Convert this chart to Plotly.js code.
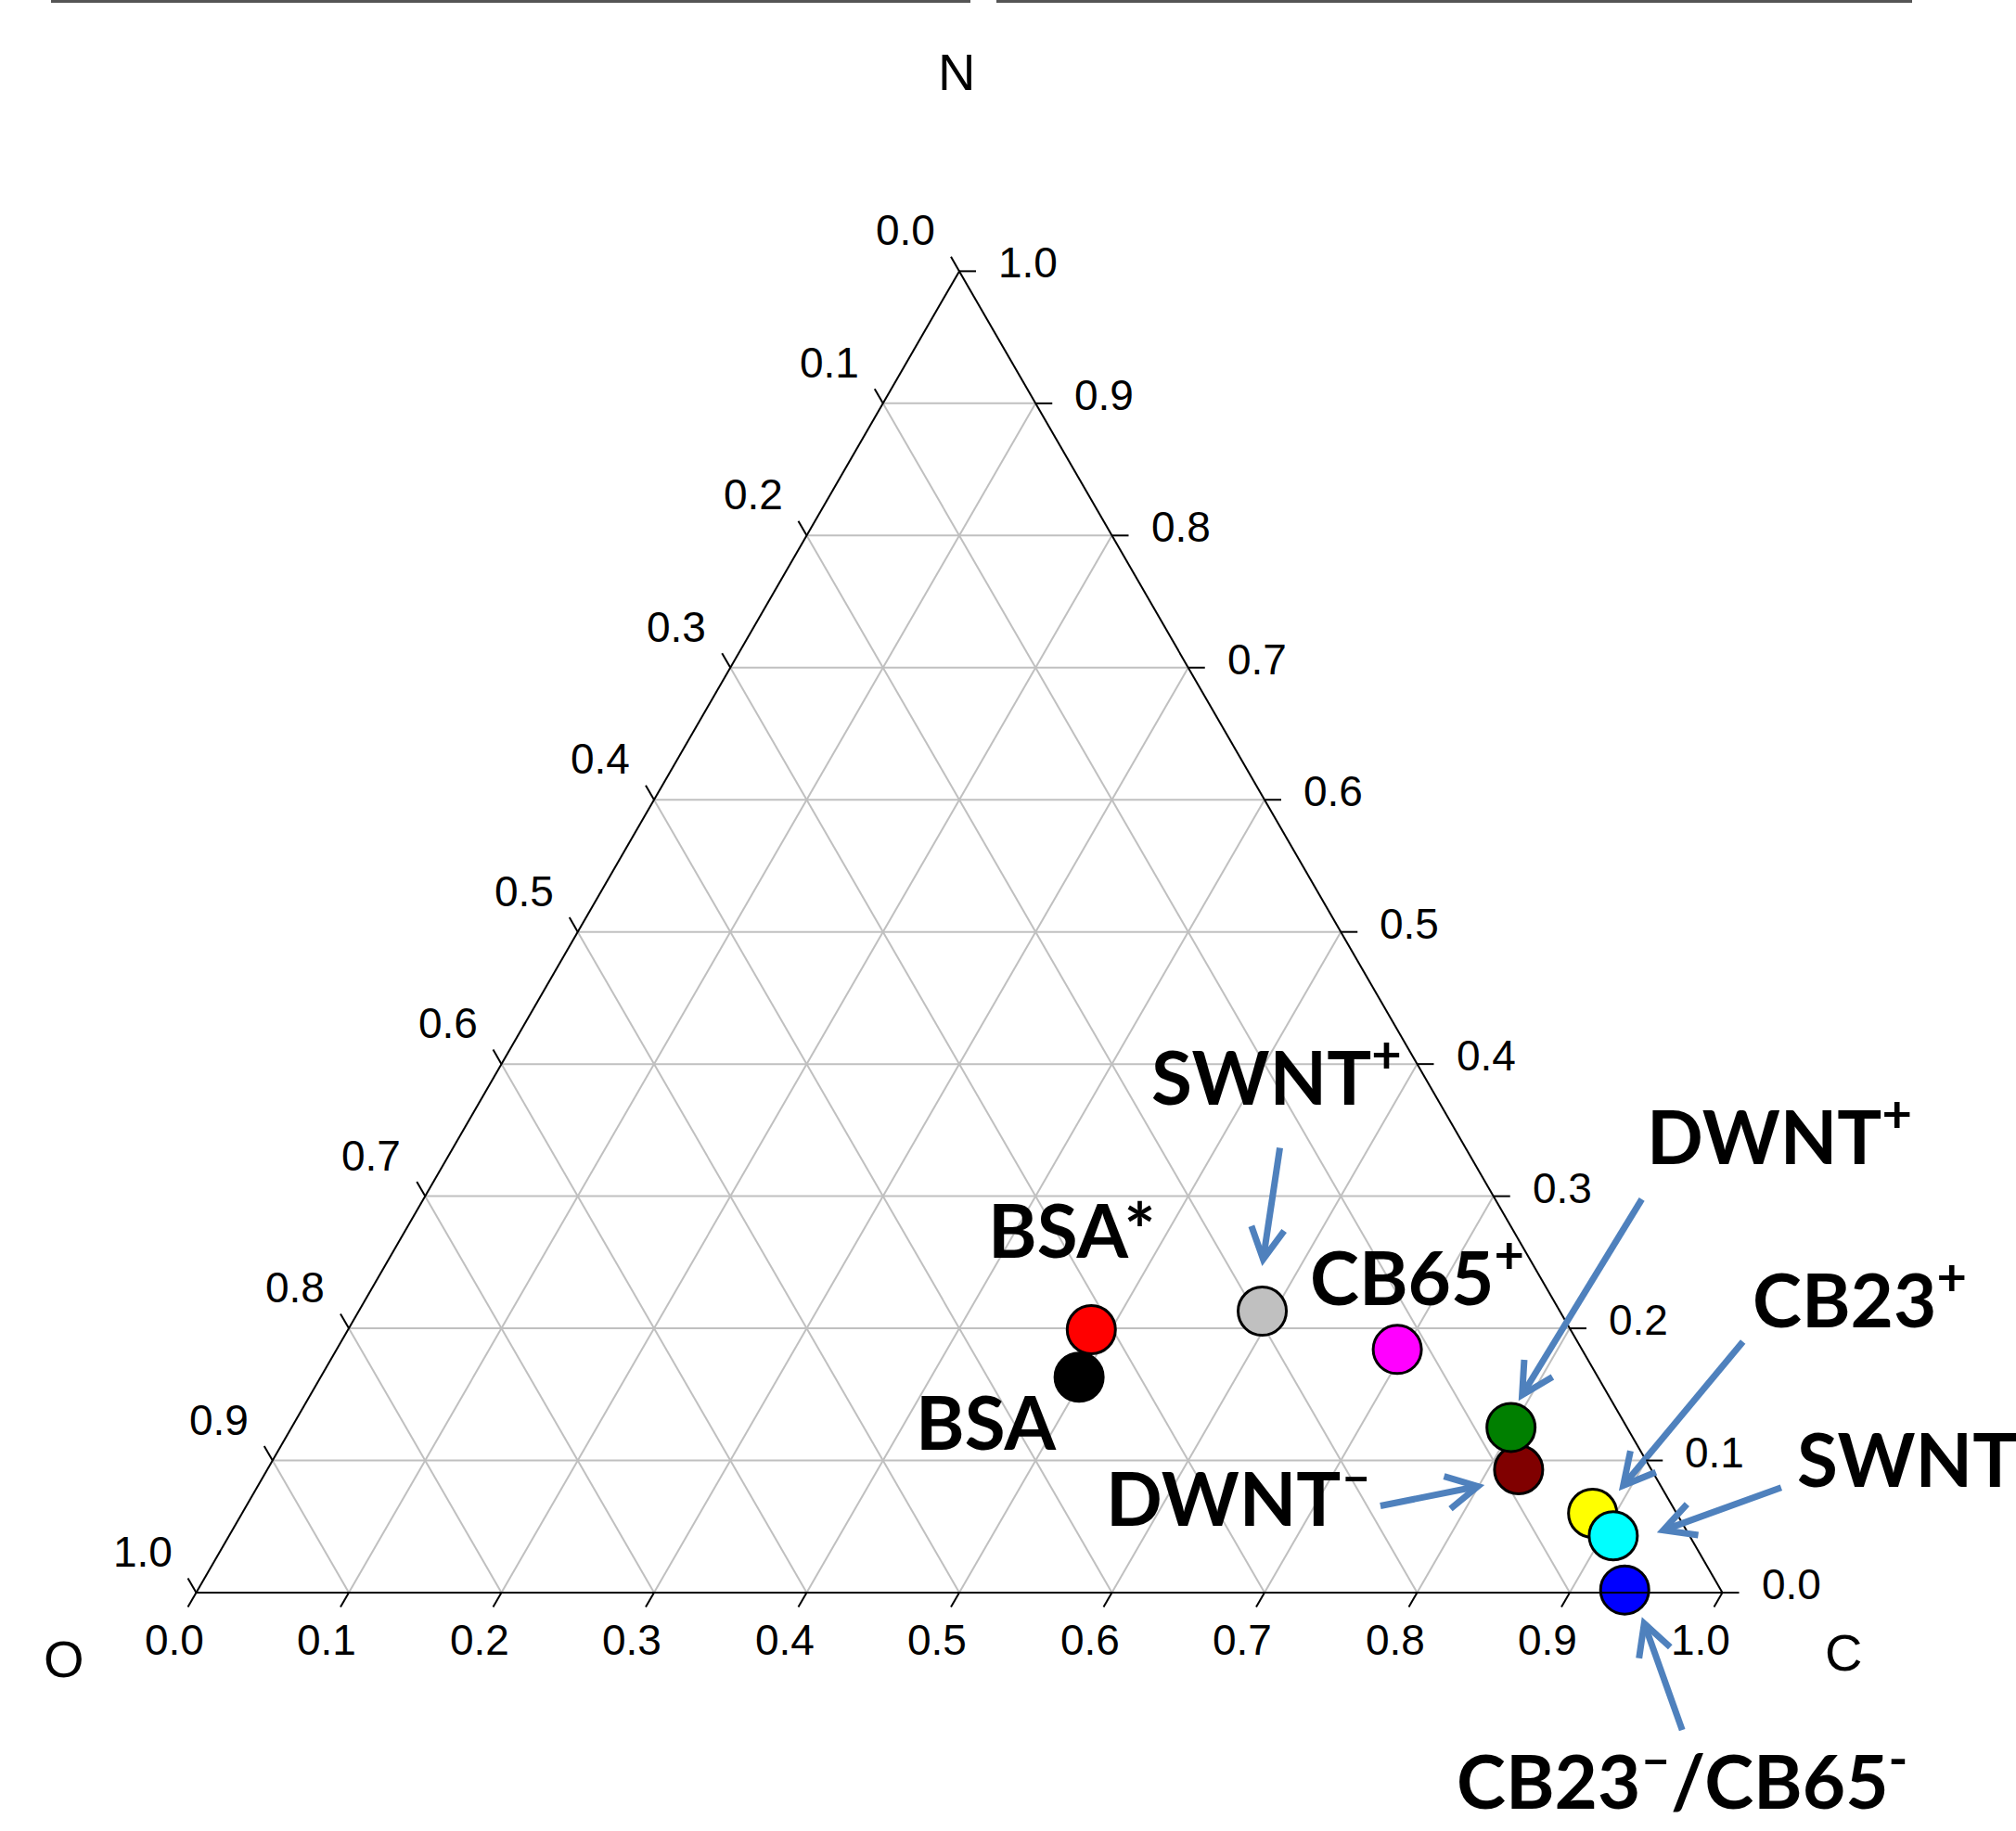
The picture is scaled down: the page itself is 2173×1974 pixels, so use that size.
<!DOCTYPE html>
<html>
<head>
<meta charset="utf-8">
<script src="https://cdn.plot.ly/plotly-3.0.1.min.js"></script>
<style>html,body{margin:0;padding:0;background:#fff;overflow:hidden}</style>
</head>
<body>
<div id="chart" style="width:2173px;height:1974px"></div>
<script>
// ---------------- data ----------------
const species = ['BSA', 'BSA*', 'SWNT+', 'CB65+', 'DWNT-', 'DWNT+', 'CB23+', 'SWNT-', 'CB23-/CB65-'];
const labelText = ['BSA', 'BSA*', 'SWNT<sup>+</sup>', 'CB65<sup>+</sup>', 'DWNT<sup>–</sup>', 'DWNT<sup>+</sup>',
                   'CB23<sup>+</sup>', 'SWNT', 'CB23<sup>–</sup>/CB65<sup>-</sup>'];
const fracN = [0.163, 0.199, 0.213, 0.184, 0.093, 0.125, 0.060, 0.043, 0.002];
const fracO = [0.340, 0.314, 0.195, 0.121, 0.087, 0.076, 0.055, 0.050, 0.063];
const fracC = [0.497, 0.487, 0.592, 0.695, 0.820, 0.799, 0.885, 0.907, 0.935];
const markerColors = ['#000000', '#ff0000', '#c0c0c0', '#ff00ff', '#800000', '#007f00', '#ffff00', '#00ffff', '#0000ff'];
const tickVals = [0, 0.1, 0.2, 0.3, 0.4, 0.5, 0.6, 0.7, 0.8, 0.9, 1.0];
const tickLabels = ['0.0', '0.1', '0.2', '0.3', '0.4', '0.5', '0.6', '0.7', '0.8', '0.9', '1.0'];
const axisNames = {a: 'N', b: 'O', c: 'C'};

// ---------------- styling / placement (screen px) ----------------
const W = 2173, H = 1974;
const TRI_W = 1645, TRI_CX = 1034, TRI_BASE = 1717;
const TRI_H = TRI_W * Math.sqrt(3) / 2;
const triLeft = TRI_CX - TRI_W / 2;
const triTop = TRI_BASE - TRI_H;

// label offsets from each point [dx, dy] (anchor point of the text)
const labelOffset = [[-101, 47], [-21, -109], [15, -259], [21, -84], [-302, 24], [289, -320], [288, -237], [437, -84], [62, 200]];
const labelAnchor = ['center', 'center', 'center', 'center', 'center', 'center', 'center', 'right', 'center'];
// arrow head / tail offsets from each point (null = no arrow)
const arrowHead = [null, null, [1, -56], null, [-44, 18], [12, -35], [33, -30], [54, -6], [21, 36]];
const arrowTail = [null, null, [19, -176], null, [-149, 39], [141, -246], [162, -185], [181, -52], [62, 151]];
const ARROW_COLOR = '#4f81bd', ARROW_W = 7, HEAD_LEN = 38, HEAD_ANG = 28 * Math.PI / 180;

function toPx(a, c) { return [triLeft + TRI_W * (c + a / 2), TRI_BASE - TRI_H * a]; }
function px2x(x) { return x / W; }
function px2y(y) { return 1 - y / H; }

const tickLabelsRev = tickLabels.slice().reverse();

const axisCommon = {
  min: 0,
  tickmode: 'array',
  tickvals: tickVals,
  ticktext: tickLabelsRev,
  ticks: '',
  showticklabels: false,
  showline: true, linecolor: '#000', linewidth: 2,
  showgrid: true, gridcolor: '#c0c0c0', gridwidth: 2,
  title: {text: ''}
};

const annotations = [];
const shapes = [];

// ---- point labels + arrows ----
const labelFont = {family: 'Lato, Carlito, sans-serif', size: 80, color: '#000', weight: 700};
for (let i = 0; i < species.length; i++) {
  const p = toPx(fracN[i], fracC[i]);
  annotations.push({
    xref: 'paper', yref: 'paper',
    x: px2x(p[0] + labelOffset[i][0]), y: px2y(p[1] + labelOffset[i][1]),
    text: labelText[i], showarrow: false,
    xanchor: labelAnchor[i], yanchor: 'middle',
    font: labelFont
  });
  if (arrowHead[i]) {
    const hx = p[0] + arrowHead[i][0], hy = p[1] + arrowHead[i][1];
    const tx = p[0] + arrowTail[i][0], ty = p[1] + arrowTail[i][1];
    const ang = Math.atan2(ty - hy, tx - hx);
    const a1 = [hx + HEAD_LEN * Math.cos(ang + HEAD_ANG), hy + HEAD_LEN * Math.sin(ang + HEAD_ANG)];
    const a2 = [hx + HEAD_LEN * Math.cos(ang - HEAD_ANG), hy + HEAD_LEN * Math.sin(ang - HEAD_ANG)];
    // shaft stops a little short of the tip so the tip stays sharp
    const sx = hx + 4 * Math.cos(ang), sy = hy + 4 * Math.sin(ang);
    shapes.push({type: 'line', xref: 'paper', yref: 'paper',
      x0: px2x(tx), y0: px2y(ty), x1: px2x(sx), y1: px2y(sy),
      line: {color: ARROW_COLOR, width: ARROW_W}});
    shapes.push({type: 'path', xref: 'paper', yref: 'paper',
      path: 'M' + px2x(a1[0]) + ',' + px2y(a1[1]) + 'L' + px2x(hx) + ',' + px2y(hy) + 'L' + px2x(a2[0]) + ',' + px2y(a2[1]),
      line: {color: ARROW_COLOR, width: ARROW_W}});
  }
}

// ---- edge ticks and tick labels (O on left, C on bottom, N on right) ----
const TICK_LEN = 18;
const tickFont = {family: 'Liberation Sans, Arial, sans-serif', size: 46, color: '#000'};
const edges = [
  {pt: t => toPx(1 - t, 0), dir: [-0.5, -0.866], lab: [-24, -44], anchor: 'right'},  // O axis, left edge
  {pt: t => toPx(0, t),     dir: [-0.5, 0.866],  lab: [-24, 51],  anchor: 'center'}, // C axis, bottom edge
  {pt: t => toPx(t, 1 - t), dir: [1, 0],         lab: [40, -9],   anchor: 'left'}    // N axis, right edge
];
edges.forEach(e => {
  tickVals.forEach((t, i) => {
    const p = e.pt(t);
    shapes.push({type: 'line', xref: 'paper', yref: 'paper',
      x0: px2x(p[0]), y0: px2y(p[1]),
      x1: px2x(p[0] + TICK_LEN * e.dir[0]), y1: px2y(p[1] + TICK_LEN * e.dir[1]),
      line: {color: '#000', width: 2}});
    annotations.push({xref: 'paper', yref: 'paper',
      x: px2x(p[0] + e.lab[0]), y: px2y(p[1] + e.lab[1]),
      text: tickLabels[i], showarrow: false, xanchor: e.anchor, yanchor: 'middle',
      font: tickFont});
  });
});

// ---- corner (axis) titles ----
const titleFont = {family: 'Liberation Sans, Arial, sans-serif', size: 56, color: '#000'};
const vertexPx = {a: [TRI_CX, triTop], b: [triLeft, TRI_BASE], c: [triLeft + TRI_W, TRI_BASE]};
const titleOffset = {a: [-3, -215], b: [-143, 71], c: [130, 64]};
['a', 'b', 'c'].forEach(k => {
  annotations.push({
    xref: 'paper', yref: 'paper',
    x: px2x(vertexPx[k][0] + titleOffset[k][0]),
    y: px2y(vertexPx[k][1] + titleOffset[k][1]),
    text: axisNames[k], showarrow: false, xanchor: 'center', yanchor: 'middle',
    font: titleFont
  });
});

// ---- cropped frame lines at the top edge ----
shapes.push({type: 'line', xref: 'paper', yref: 'paper', x0: 55 / W, x1: 1046 / W, y0: 1 - 1.5 / H, y1: 1 - 1.5 / H, line: {color: '#555555', width: 3}});
shapes.push({type: 'line', xref: 'paper', yref: 'paper', x0: 1074 / W, x1: 2061 / W, y0: 1 - 1.5 / H, y1: 1 - 1.5 / H, line: {color: '#555555', width: 3}});

const trace = {
  type: 'scatterternary',
  mode: 'markers',
  a: fracN, b: fracO, c: fracC,
  text: species,
  cliponaxis: false,
  marker: {size: 52, color: markerColors, symbol: 'circle', line: {color: '#000', width: 3}},
  showlegend: false,
  hoverinfo: 'text'
};

const layout = {
  width: W, height: H,
  autosize: false,
  margin: {l: 0, r: 0, t: 0, b: 0, pad: 0},
  paper_bgcolor: '#ffffff',
  showlegend: false,
  ternary: {
    sum: 1,
    bgcolor: '#ffffff',
    domain: {
      x: [triLeft / W, (triLeft + TRI_W) / W],
      y: [1 - TRI_BASE / H, 1 - triTop / H]
    },
    aaxis: Object.assign({}, axisCommon),
    baxis: Object.assign({}, axisCommon),
    caxis: Object.assign({}, axisCommon)
  },
  annotations: annotations,
  shapes: shapes
};

Plotly.newPlot('chart', [trace], layout, {staticPlot: true, displayModeBar: false});
</script>
</body>
</html>
